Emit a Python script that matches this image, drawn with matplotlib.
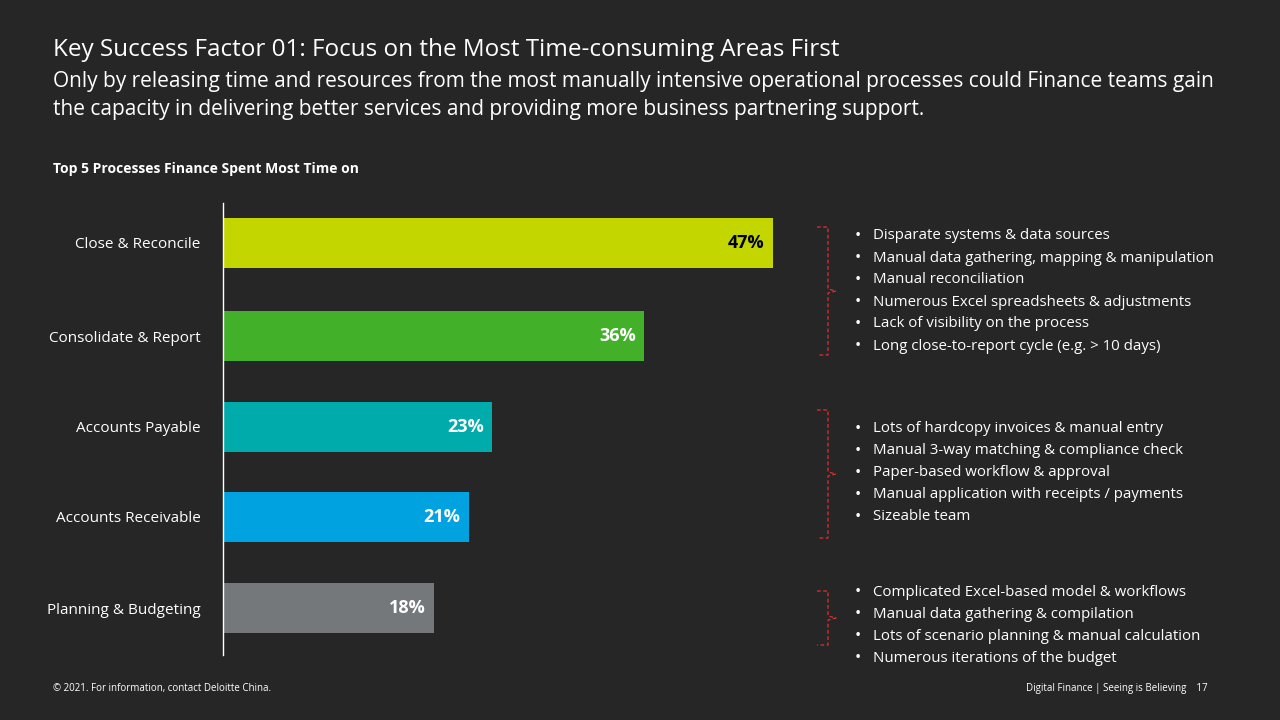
import matplotlib
matplotlib.use("Agg")
import matplotlib.pyplot as plt
from matplotlib.lines import Line2D

categories = ["Close & Reconcile", "Consolidate & Report", "Accounts Payable", "Accounts Receivable", "Planning & Budgeting"]
values = [47, 36, 23, 21, 18]
colors = ["#C4D600", "#43B02A", "#00ABAB", "#00A3E0", "#75787B"]
label_colors = ["#000000", "#FFFFFF", "#FFFFFF", "#FFFFFF", "#FFFFFF"]
bullets = [
    ["Disparate systems & data sources", "Manual data gathering, mapping & manipulation",
     "Manual reconciliation", "Numerous Excel spreadsheets & adjustments",
     "Lack of visibility on the process", "Long close-to-report cycle (e.g. > 10 days)"],
    ["Lots of hardcopy invoices & manual entry", "Manual 3-way matching & compliance check",
     "Paper-based workflow & approval", "Manual application with receipts / payments", "Sizeable team"],
    ["Complicated Excel-based model & workflows", "Manual data gathering & compilation",
     "Lots of scenario planning & manual calculation", "Numerous iterations of the budget"],
]

BG = "#262626"
W, H = 1280, 720
fig = plt.figure(figsize=(12.8, 7.2), dpi=100, facecolor=BG)
plt.rcParams['font.family'] = ['Open Sans', 'DejaVu Sans']

def fx(x): return x / W
def fy(y): return 1 - y / H

fig.text(fx(53), fy(50), "Key Success Factor 01: Focus on the Most Time-consuming Areas First",
         color="white", fontsize=17.5, va="center")
fig.text(fx(53), fy(82), "Only by releasing time and resources from the most manually intensive operational processes could Finance teams gain",
         color="white", fontsize=15, va="center")
fig.text(fx(53), fy(110), "the capacity in delivering better services and providing more business partnering support.",
         color="white", fontsize=15, va="center")
fig.text(fx(53), fy(169), "Top 5 Processes Finance Spent Most Time on", color="white", fontsize=10,
         fontweight="bold", va="center")

ax = fig.add_axes([fx(223), fy(655), 585 / W, 452 / H])
ax.set_facecolor("none")
ypos = [243, 336, 427, 517, 608]
ax.barh(ypos, values, height=50, color=colors)
ax.set_xlim(0, 50)
ax.set_ylim(655, 203)
for y, v, lc in zip(ypos, values, label_colors):
    ax.text(v - 0.7, y, f"{v}%", ha="right", va="center", color=lc, fontsize=13, fontweight="bold")
ax.set_yticks(ypos)
ax.set_yticklabels(categories, color="white", fontsize=11)
ax.tick_params(axis="y", length=0, pad=16)
ax.set_xticks([])
for s in ["top", "right", "bottom"]:
    ax.spines[s].set_visible(False)
ax.spines["left"].set_color("white")
ax.spines["left"].set_linewidth(1)

brackets = [(227, 355), (410, 538), (591, 645)]
for (t, b) in brackets:
    m = (t + b) / 2
    xs = [fx(817), fx(828), fx(828), fx(836), fx(828), fx(828), fx(817)]
    ys = [fy(t), fy(t), fy(m - 2), fy(m), fy(m + 2), fy(b), fy(b)]
    fig.add_artist(Line2D(xs, ys, color="#E03030", lw=0.9, ls=(0, (3, 2))))

starts = [236, 429, 592]
for st, items in zip(starts, bullets):
    for i, s in enumerate(items):
        y = st + i * 22
        fig.text(fx(855), fy(y), "•", color="white", fontsize=12, va="center")
        fig.text(fx(873), fy(y), s, color="white", fontsize=10.8, va="center")

fig.text(fx(53), fy(688), "© 2021. For information, contact Deloitte China.", color="white", fontsize=7, va="center")
fig.text(fx(1208), fy(688), "Digital Finance | Seeing is Believing    17", color="white", fontsize=7,
         va="center", ha="right")

fig.savefig("out.png", dpi=100, facecolor=BG)
